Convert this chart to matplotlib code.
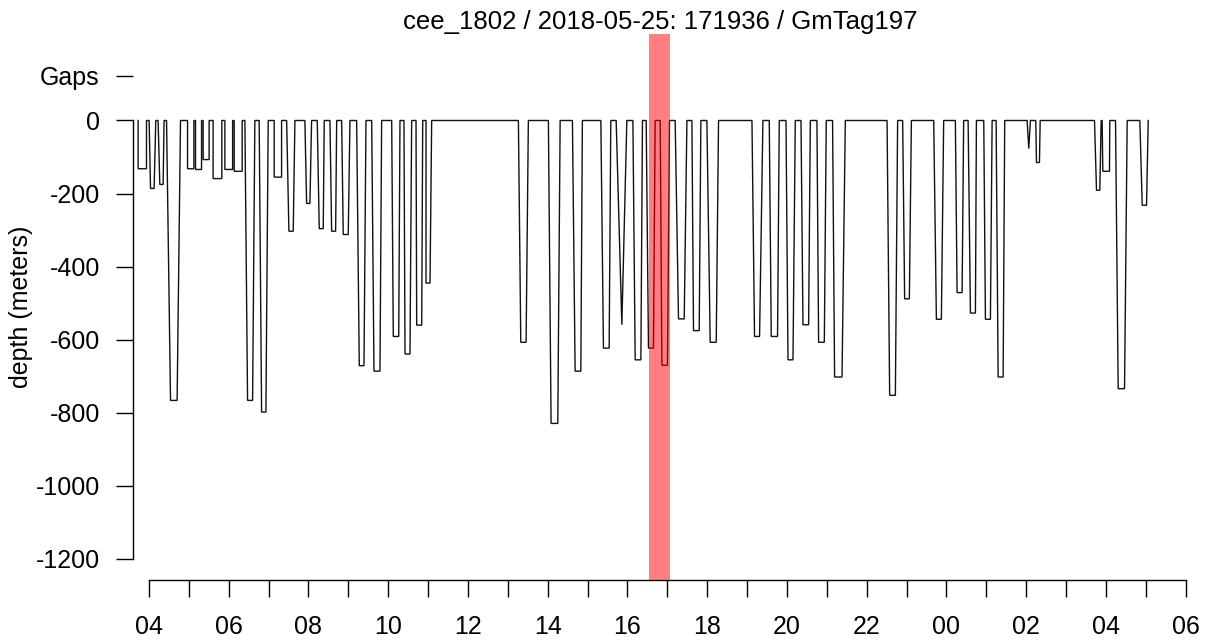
import matplotlib
matplotlib.use("Agg")
import matplotlib.pyplot as plt

plt.rcParams['font.family'] = ['Liberation Sans', 'DejaVu Sans']

title = "cee_1802 / 2018-05-25: 171936 / GmTag197"
ylabel = "depth (meters)"

# times in hours since 2018-05-25 00:00
dive_start = [3.727, 4.003, 4.228, 4.440, 4.967, 5.167, 5.358, 5.608, 5.903, 6.137,
              6.405, 6.763, 7.140, 7.452, 7.910, 8.220, 8.538, 8.832, 9.208, 9.585,
              10.087, 10.395, 10.697, 10.948, 13.265, 14.017, 14.620, 15.333, 15.717, 16.137,
              16.470, 16.822, 17.197, 17.617, 17.993, 19.123, 19.557, 19.977, 20.353, 20.753,
              21.145, 22.512, 22.903, 23.682, 24.225, 24.545, 24.937, 25.247, 26.025, 26.242,
              27.715, 27.907, 28.242, 28.852]
bottom_start = [3.727, 4.038, 4.271, 4.540, 4.967, 5.167, 5.358, 5.608, 5.903, 6.137,
                6.472, 6.824, 7.140, 7.509, 7.953, 8.270, 8.581, 8.872, 9.274, 9.643,
                10.127, 10.421, 10.714, 10.948, 13.325, 14.085, 14.688, 15.398, 15.860, 16.194,
                16.528, 16.864, 17.281, 17.657, 18.076, 19.188, 19.607, 20.027, 20.403, 20.795,
                21.196, 22.577, 22.953, 23.749, 24.268, 24.603, 24.979, 25.298, 26.066, 26.259,
                27.765, 27.923, 28.309, 28.912]
bottom_end = [3.937, 4.128, 4.354, 4.705, 5.125, 5.318, 5.508, 5.827, 6.097, 6.337,
              6.598, 6.932, 7.325, 7.617, 8.036, 8.370, 8.681, 8.997, 9.392, 9.793,
              10.263, 10.546, 10.840, 11.048, 13.458, 14.253, 14.831, 15.541, 15.860, 16.337,
              16.653, 17.004, 17.424, 17.800, 18.227, 19.314, 19.765, 20.152, 20.544, 20.938,
              21.382, 22.720, 23.071, 23.874, 24.394, 24.728, 25.104, 25.423, 26.066, 26.334,
              27.848, 28.091, 28.468, 29.020]
dive_end = [3.937, 4.170, 4.378, 4.790, 5.125, 5.318, 5.508, 5.827, 6.097, 6.337,
            6.655, 6.990, 7.325, 7.660, 8.078, 8.395, 8.707, 9.040, 9.442, 9.835,
            10.295, 10.588, 10.865, 11.090, 13.515, 14.312, 14.870, 15.583, 15.985, 16.377,
            16.695, 17.055, 17.492, 17.842, 18.285, 19.398, 19.808, 20.210, 20.587, 20.987,
            21.465, 22.777, 23.122, 23.932, 24.433, 24.753, 25.147, 25.463, 26.108, 26.352,
            27.882, 28.098, 28.535, 29.062]
max_depth = [132, 186, 175, 766, 132, 134, 107, 159, 134, 139,
             766, 798, 155, 303, 227, 296, 303, 312, 671, 686,
             591, 639, 560, 445, 607, 829, 686, 623, 559, 655,
             623, 670, 543, 575, 607, 591, 591, 655, 559, 607,
             702, 752, 488, 544, 471, 527, 544, 702, 77, 115,
             191, 139, 734, 232]

highlight_start = 16.55
highlight_end = 17.06

y_ticks = [0, -200, -400, -600, -800, -1000, -1200]
gaps_level = 122
hour_ticks = list(range(4, 31))

W, H = 1207, 643
fig = plt.figure(figsize=(W / 100, H / 100), dpi=100)
left_px, right_px, top_px, bottom_px = 132.7, 1188, 34, 580
ax = fig.add_axes([left_px / W, 1 - bottom_px / H, (right_px - left_px) / W, (bottom_px - top_px) / H])

xs, ys = [], []
for s, bs, be, e, d in zip(dive_start, bottom_start, bottom_end, dive_end, max_depth):
    xs += [s, bs, be, e]
    ys += [0, -d, -d, 0]
ax.plot(xs, ys, color='#111111', lw=1.0, zorder=2, solid_joinstyle='miter')

ax.axvspan(highlight_start, highlight_end, color=(1, 0, 0, 0.5), lw=0, zorder=3)

ax.set_xlim(3.591, 30.06)
ax.set_ylim(-1257.5, 236.7)

for sp in ['top', 'right']:
    ax.spines[sp].set_visible(False)
ax.spines['left'].set_bounds(-1200, 0)
ax.spines['bottom'].set_bounds(4, 30)
for sp in ['left', 'bottom']:
    ax.spines[sp].set_linewidth(1.0)

ax.set_yticks(y_ticks + [gaps_level])
ax.set_yticklabels([str(v) for v in y_ticks] + ['Gaps'])
ax.set_xticks(hour_ticks)
ax.set_xticklabels([f"{h % 24:02d}" if h % 2 == 0 else "" for h in hour_ticks])
ax.tick_params(axis='both', length=12.2, width=1.0, labelsize=18)
ax.tick_params(axis='y', pad=11.5)
ax.tick_params(axis='x', pad=13)

fig.text((left_px + right_px) / 2 / W, 1 - 29 / H, title, ha='center', va='baseline', fontsize=18.5)
fig.text(21 / W, 1 - 307 / H, ylabel, rotation=90, ha='center', va='center', fontsize=18)

fig.savefig("out.png", dpi=100)
